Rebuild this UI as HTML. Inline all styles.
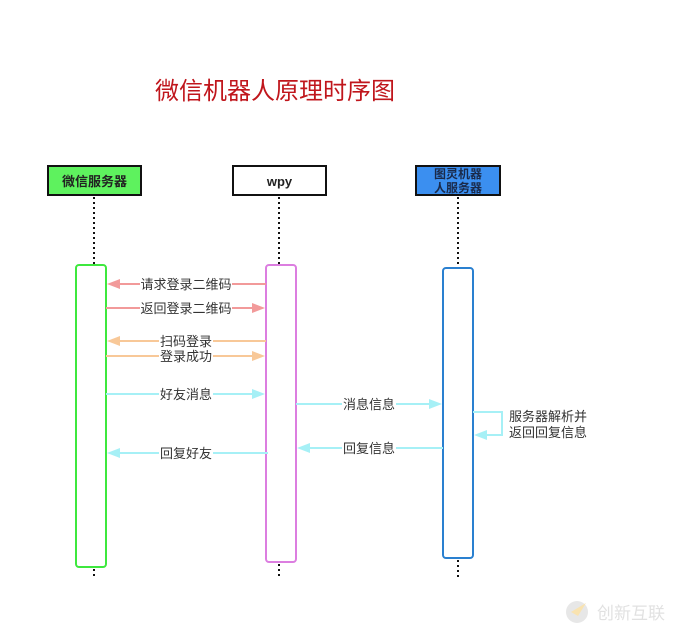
<!DOCTYPE html>
<html><head><meta charset="utf-8"><style>
html,body{margin:0;padding:0;background:#fff;}
svg{display:block;}
text{font-family:"Liberation Sans","Noto Sans CJK SC",sans-serif;}
</style></head><body>
<svg width="695" height="642" viewBox="0 0 695 642" xmlns="http://www.w3.org/2000/svg">
<rect width="695" height="642" fill="#fff"/>
<text x="155" y="99" font-size="24" fill="#c0161c">微信机器人原理时序图</text>

<!-- headers -->
<rect x="48" y="166" width="93" height="29" fill="#5ef25e" stroke="#111" stroke-width="2"/>
<text x="94.5" y="186" font-size="13" font-weight="bold" fill="#222" text-anchor="middle">微信服务器</text>
<rect x="233" y="166" width="93" height="29" fill="#fff" stroke="#111" stroke-width="2"/>
<text x="279.5" y="186" font-size="13" font-weight="bold" fill="#222" text-anchor="middle">wpy</text>
<rect x="416" y="166" width="84" height="29" fill="#3b8ff0" stroke="#111" stroke-width="2"/>
<text x="458" y="178" font-size="12" font-weight="bold" fill="#1a2a4a" text-anchor="middle">图灵机器</text>
<text x="458" y="192" font-size="12" font-weight="bold" fill="#1a2a4a" text-anchor="middle">人服务器</text>

<!-- lifelines -->
<g stroke="#111" stroke-width="2" stroke-dasharray="2,3">
<line x1="94" y1="197" x2="94" y2="265"/>
<line x1="279" y1="197" x2="279" y2="265"/>
<line x1="458" y1="197" x2="458" y2="268"/>
<line x1="94" y1="569" x2="94" y2="579"/>
<line x1="279" y1="564" x2="279" y2="579"/>
<line x1="458" y1="560" x2="458" y2="579"/>
</g>

<!-- activations -->
<rect x="76" y="265" width="30" height="302" rx="3" fill="#fff" stroke="#3ee83e" stroke-width="2"/>
<rect x="266" y="265" width="30" height="297" rx="3" fill="#fff" stroke="#dc7ee0" stroke-width="2"/>
<rect x="443" y="268" width="30" height="290" rx="3" fill="#fff" stroke="#2a80d0" stroke-width="2"/>

<!-- messages -->
<g stroke-width="2">
<line x1="118" y1="284" x2="266" y2="284" stroke="#f29a9a"/>
<polygon points="107,284 120,279 120,289" fill="#f29a9a"/>
<line x1="106" y1="308" x2="253" y2="308" stroke="#f29a9a"/>
<polygon points="265,308 252,303 252,313" fill="#f29a9a"/>
<line x1="118" y1="341" x2="266" y2="341" stroke="#f8c898"/>
<polygon points="107,341 120,336 120,346" fill="#f8c898"/>
<line x1="106" y1="356" x2="253" y2="356" stroke="#f8c898"/>
<polygon points="265,356 252,351 252,361" fill="#f8c898"/>
<line x1="106" y1="394" x2="253" y2="394" stroke="#a6f0f6"/>
<polygon points="265,394 252,389 252,399" fill="#a6f0f6"/>
<line x1="296" y1="404" x2="430" y2="404" stroke="#a6f0f6"/>
<polygon points="442,404 429,399 429,409" fill="#a6f0f6"/>
<polyline points="473,412 502,412 502,435 486,435" fill="none" stroke="#a6f0f6"/>
<polygon points="474,435 487,430 487,440" fill="#a6f0f6"/>
<line x1="309" y1="448" x2="443" y2="448" stroke="#a6f0f6"/>
<polygon points="297,448 310,443 310,453" fill="#a6f0f6"/>
<line x1="118" y1="453" x2="268" y2="453" stroke="#a6f0f6"/>
<polygon points="107,453 120,448 120,458" fill="#a6f0f6"/>
</g>

<g font-size="13" fill="#333" text-anchor="middle">
<rect x="140" y="276" width="92" height="16" fill="#fff"/>
<text x="186" y="289">请求登录二维码</text>
<rect x="140" y="300" width="92" height="16" fill="#fff"/>
<text x="186" y="313">返回登录二维码</text>
<rect x="159" y="334" width="54" height="14" fill="#fff"/>
<text x="186" y="346">扫码登录</text>
<rect x="159" y="349" width="54" height="14" fill="#fff"/>
<text x="186" y="361">登录成功</text>
<rect x="159" y="386" width="54" height="16" fill="#fff"/>
<text x="186" y="399">好友消息</text>
<rect x="342" y="396" width="54" height="16" fill="#fff"/>
<text x="369" y="409">消息信息</text>
<rect x="342" y="440" width="54" height="16" fill="#fff"/>
<text x="369" y="453">回复信息</text>
<rect x="159" y="445" width="54" height="16" fill="#fff"/>
<text x="186" y="458">回复好友</text>
</g>
<text x="509" y="421" font-size="13" fill="#333">服务器解析并</text>
<text x="509" y="437" font-size="13" fill="#333">返回回复信息</text>

<!-- watermark -->
<g opacity="0.35">
<circle cx="577" cy="612" r="11" fill="#bbb"/>
<path d="M571 612 L586 603 L578 616 Z" fill="#f0b020"/>
<text x="597" y="619" font-size="17" fill="#aaa">创新互联</text>
</g>
</svg>
</body></html>
